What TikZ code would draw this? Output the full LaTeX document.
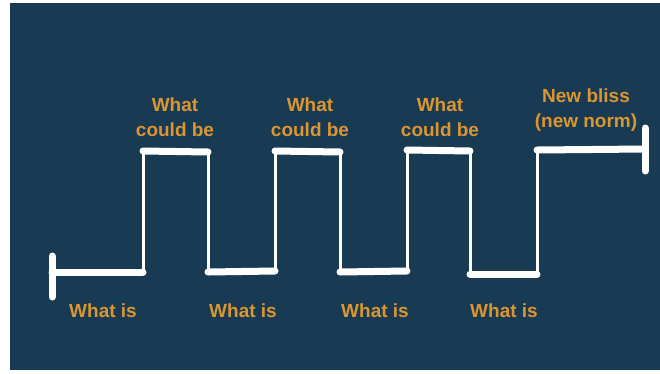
\documentclass[tikz,border=0pt]{standalone}
\usepackage{fontspec}
\setmainfont{Liberation Sans}
\definecolor{board}{HTML}{193A53}
\definecolor{chalkorange}{HTML}{DA9630}
\begin{document}
\begin{tikzpicture}[x=1pt,y=-1pt,
  lbl/.style={text=chalkorange,font=\fontsize{19}{25.5}\selectfont\bfseries,align=center,inner sep=0pt},
  thick line/.style={draw=white,line width=7pt,line cap=round,line join=round},
  thin line/.style={draw=white,line width=3pt,line cap=round}]
\useasboundingbox (0,0) rectangle (660,373);
\fill[white] (0,0) rectangle (660,373);
\fill[board] (10,3) rectangle (660,370);
% coordinates of the wave
\coordinate (s) at (52,272);
\coordinate (a1) at (143,272); \coordinate (a2) at (143,151);
\coordinate (b1) at (208,152); \coordinate (b2) at (208,272);
\coordinate (c1) at (275,271); \coordinate (c2) at (275,151);
\coordinate (d1) at (340,152); \coordinate (d2) at (340,272);
\coordinate (e1) at (407,271); \coordinate (e2) at (407,150);
\coordinate (f1) at (470,151); \coordinate (f2) at (470,274);
\coordinate (g1) at (537,274); \coordinate (g2) at (537,150);
\coordinate (h) at (645,149);
% verticals (thin)
\draw[thin line] (a1) -- (a2);
\draw[thin line] (b1) -- (b2);
\draw[thin line] (c1) -- (c2);
\draw[thin line] (d1) -- (d2);
\draw[thin line] (e1) -- (e2);
\draw[thin line] (f1) -- (f2);
\draw[thin line] (g1) -- (g2);
% horizontals (thick)
\draw[thick line] (s) -- (a1);
\draw[thick line] (a2) -- (b1);
\draw[thick line] (b2) -- (c1);
\draw[thick line] (c2) -- (d1);
\draw[thick line] (d2) -- (e1);
\draw[thick line] (e2) -- (f1);
\draw[thick line] (f2) -- (g1);
\draw[thick line] (g2) -- (h);
% end caps
\draw[thick line] (52,256) -- (52,297);
\draw[thick line] (645,128) -- (645,171);
% labels
\node[lbl] (t1) at (175,117) {What\\could be};
\node[lbl] (t2) at (310,117) {What\\could be};
\node[lbl] (t3) at (440,117) {What\\could be};
\node[lbl] (t4) at (586,110) {New bliss\\(new norm)};
\node[lbl] (w1) at (103,311) {What is};
\node[lbl] (w2) at (243,311) {What is};
\node[lbl] (w3) at (375,311) {What is};
\node[lbl] (w4) at (504,311) {What is};
\end{tikzpicture}
\end{document}
